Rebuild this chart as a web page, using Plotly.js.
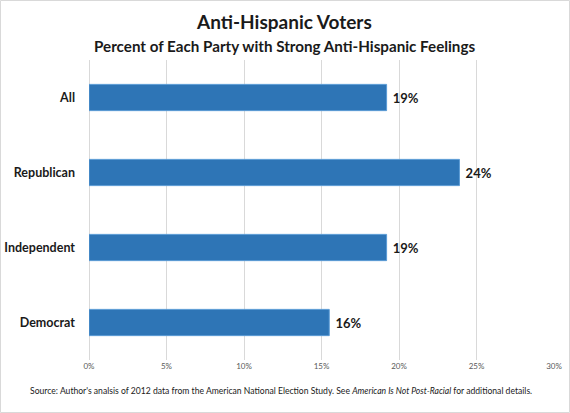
<!DOCTYPE html>
<html>
<head>
<meta charset="utf-8">
<script src="https://cdn.plot.ly/plotly-3.0.1.min.js"></script>
<style>html,body{margin:0;padding:0;background:#fff;}#chart{width:570px;height:413px;}</style>
</head>
<body>
<div id="chart"></div>
<script>
const categories = ["All", "Republican", "Independent", "Democrat"];
const values = [19.2, 23.9, 19.2, 15.5];
const labels = ["19%", "24%", "19%", "16%"];
const xTickVals = [0, 5, 10, 15, 20, 25, 30];
const xTickText = ["0%", "5%", "10%", "15%", "20%", "25%", "30%"];
const titleText = "Anti-Hispanic Voters";
const subtitleText = "Percent of Each Party with Strong Anti-Hispanic Feelings";
const sourceText = "Source: Author's analsis of 2012 data from the American National Election Study. See <i>American Is Not Post-Racial</i> for additional details.";

const FONT = "Lato, 'Open Sans', sans-serif";

const trace = {
  type: "bar",
  orientation: "h",
  y: categories,
  x: values,
  text: labels,
  texttemplate: " %{text}",
  textposition: "outside",
  cliponaxis: false,
  textfont: {family: FONT, size: 13, color: "#1a1a1a", weight: "bold"},
  marker: {color: "#2e75b6", line: {color: "#5b9bd5", width: 1}},
  width: 0.35,
  hoverinfo: "none"
};

const layout = {
  width: 570,
  height: 413,
  margin: {l: 89, r: 16, t: 60, b: 53},
  paper_bgcolor: "#ffffff",
  plot_bgcolor: "#ffffff",
  showlegend: false,
  font: {family: FONT, color: "#1a1a1a"},
  xaxis: {
    range: [0, 30],
    tickvals: xTickVals,
    ticktext: xTickText,
    showgrid: true,
    gridcolor: "#d9d9d9",
    gridwidth: 1,
    zeroline: true,
    zerolinecolor: "#d9d9d9",
    zerolinewidth: 1,
    showline: false,
    ticks: "",
    tickfont: {family: FONT, size: 8, color: "#595959"},
    fixedrange: true
  },
  yaxis: {
    type: "category",
    categoryorder: "array",
    categoryarray: categories,
    autorange: "reversed",
    showgrid: false,
    zeroline: false,
    showline: false,
    ticks: "",
    ticklabelstandoff: 13,
    tickfont: {family: FONT, size: 12.5, color: "#1a1a1a", weight: "bold"},
    fixedrange: true
  },
  annotations: [
    {text: titleText, xref: "paper", yref: "paper", x: 0.5, y: 0, xanchor: "center", yanchor: "middle",
     showarrow: false, font: {family: FONT, size: 19, weight: "bold", color: "#1a1a1a"}},
    {text: subtitleText, xref: "paper", yref: "paper", x: 0.5, y: 0, xanchor: "center", yanchor: "middle",
     showarrow: false, font: {family: FONT, size: 15.2, weight: "bold", color: "#1a1a1a"}},
    {text: sourceText, xref: "paper", yref: "paper", x: 0.5, y: 0, xanchor: "center", yanchor: "middle",
     showarrow: false, font: {family: FONT, size: 8.6, color: "#1a1a1a"}}
  ],
  shapes: []
};

// position annotations in pixel space relative to paper
const plotH = 413 - 60 - 53;
const plotW = 570 - 89 - 16;
function py(pixY) { return (413 - 53 - pixY) / plotH; }
function px(pixX) { return (pixX - 89) / plotW; }
layout.annotations[0].y = py(22); layout.annotations[0].x = px(284);
layout.annotations[1].y = py(46); layout.annotations[1].x = px(284);
layout.annotations[2].y = py(391); layout.annotations[2].x = px(281);
layout.shapes.push({type: "rect", xref: "paper", yref: "paper", x0: px(0.5), x1: px(569.5), y0: py(412.5), y1: py(0.5),
  line: {color: "#d9d9d9", width: 1}, fillcolor: "rgba(0,0,0,0)", layer: "below"});

Plotly.newPlot("chart", [trace], layout, {displayModeBar: false, staticPlot: true});
</script>
</body>
</html>
